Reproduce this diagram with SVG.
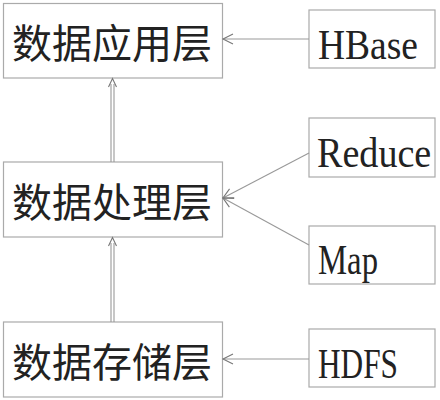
<svg xmlns="http://www.w3.org/2000/svg" width="440" height="400" viewBox="0 0 440 400">
<style>
.box{fill:#ffffff;stroke:#aaaaaa;stroke-width:1.2}
.cn{font-family:"Noto Sans CJK SC","Noto Sans",sans-serif;font-size:40px;fill:#222222}
.en{font-family:"Liberation Serif","DejaVu Serif",serif;font-size:42px;fill:#222222}
.ln{stroke:#999999;stroke-width:1.1;fill:none}
.ah{stroke:#777777;stroke-width:1.1;fill:none}
</style>
<defs>
<marker id="arr" markerWidth="14" markerHeight="12" refX="11" refY="6" orient="auto" markerUnits="userSpaceOnUse">
<polyline points="1,1 11,6 1,11" class="ah"/>
</marker>
</defs>
<rect width="440" height="400" fill="#ffffff"/>
<g id="app-layer">
<rect class="box" x="3.5" y="3.5" width="219" height="74.5"/>
<text class="cn" x="12" y="58">数据应用层</text>
</g>
<g id="proc-layer">
<rect class="box" x="3.5" y="162" width="219" height="75"/>
<text class="cn" x="12" y="217">数据处理层</text>
</g>
<g id="store-layer">
<rect class="box" x="3.5" y="322" width="219" height="75"/>
<text class="cn" x="12" y="377">数据存储层</text>
</g>
<g id="hbase">
<rect class="box" x="309" y="10" width="126" height="58"/>
<text class="en" x="318" y="59" textLength="100" lengthAdjust="spacingAndGlyphs">HBase</text>
</g>
<g id="reduce">
<rect class="box" x="309" y="118" width="126" height="59"/>
<text class="en" transform="translate(317,167) scale(0.9,1)" x="0" y="0" textLength="127" lengthAdjust="spacingAndGlyphs">Reduce</text>
</g>
<g id="map">
<rect class="box" x="309" y="226" width="126" height="58"/>
<text class="en" x="318" y="274" textLength="60" lengthAdjust="spacingAndGlyphs">Map</text>
</g>
<g id="hdfs">
<rect class="box" x="309" y="329" width="126" height="58"/>
<text class="en" x="318" y="378" textLength="80" lengthAdjust="spacingAndGlyphs">HDFS</text>
</g>
<g id="connectors">
<line class="ln" x1="309" y1="39" x2="223" y2="39" marker-end="url(#arr)"/>
<line class="ln" x1="309" y1="153" x2="223" y2="198" marker-end="url(#arr)"/>
<line class="ln" x1="309" y1="245" x2="223" y2="198" marker-end="url(#arr)"/>
<line class="ln" x1="309" y1="359" x2="223" y2="359" marker-end="url(#arr)"/>
<line class="ln" x1="111" y1="162" x2="111" y2="84"/>
<line class="ln" x1="114" y1="162" x2="114" y2="84"/>
<polyline class="ah" points="108.5,87 112.5,78.5 116.5,87"/>
<line class="ln" x1="111" y1="322" x2="111" y2="243"/>
<line class="ln" x1="114" y1="322" x2="114" y2="243"/>
<polyline class="ah" points="108.5,246 112.5,237.5 116.5,246"/>
</g>
</svg>
